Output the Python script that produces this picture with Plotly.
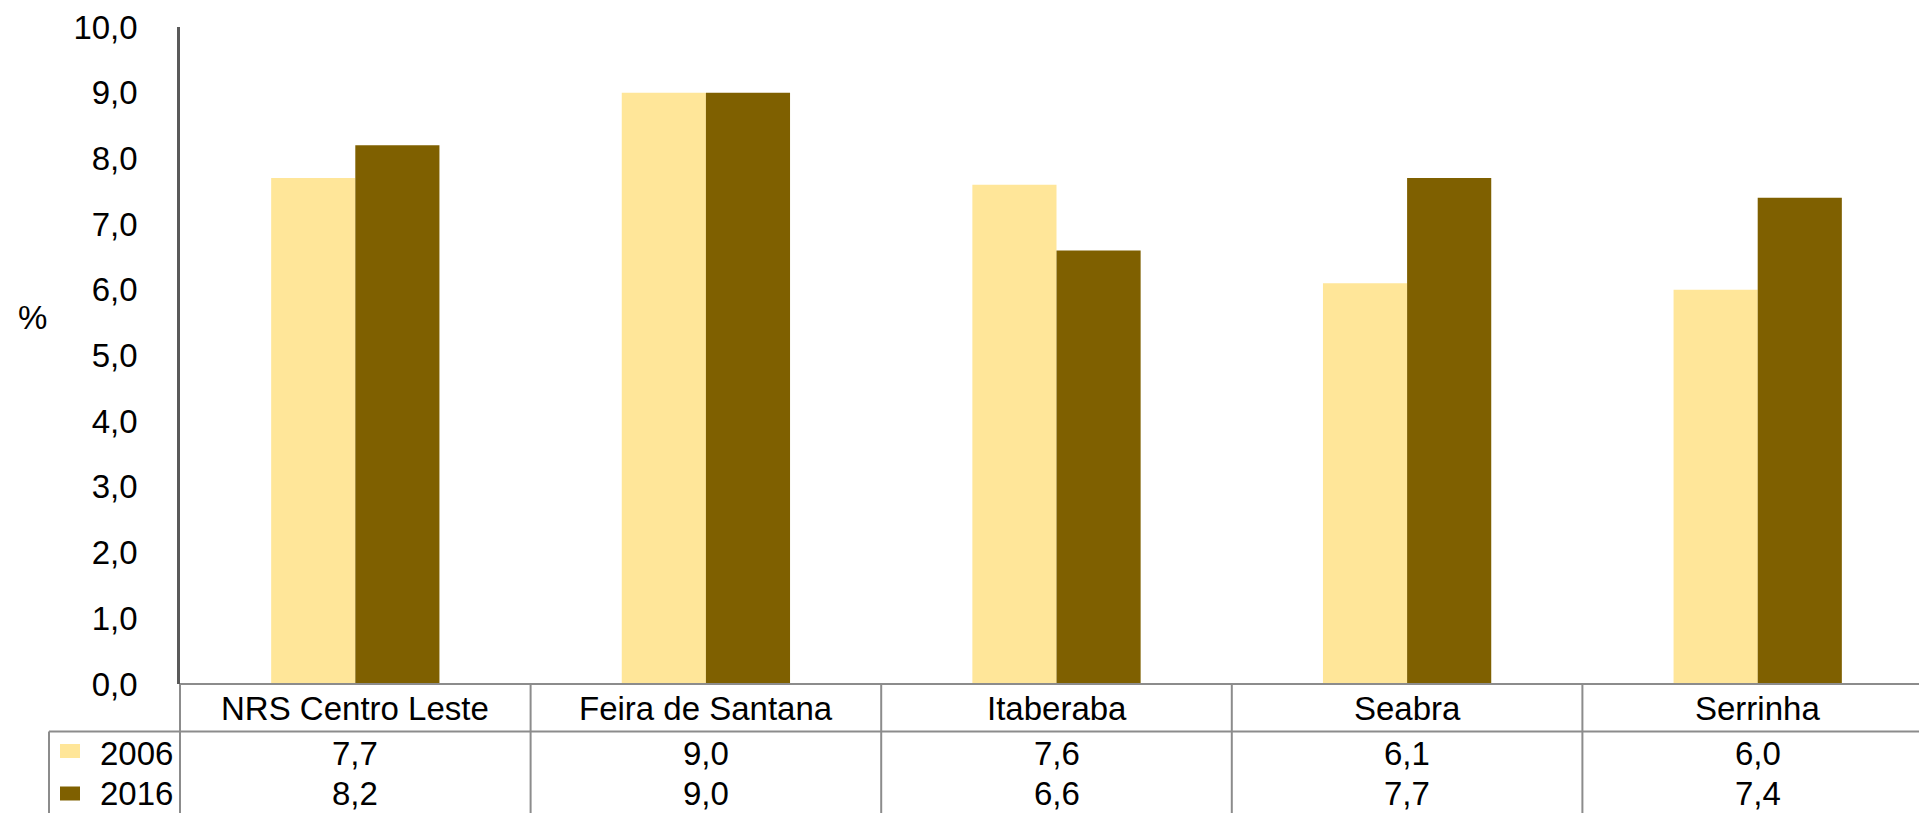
import plotly.graph_objects as go

categories = ["NRS Centro Leste", "Feira de Santana", "Itaberaba", "Seabra", "Serrinha"]
series_names = ["2006", "2016"]
values_2006 = [7.7, 9.0, 7.6, 6.1, 6.0]
values_2016 = [8.2, 9.0, 6.6, 7.7, 7.4]
y_ticks = [0, 1, 2, 3, 4, 5, 6, 7, 8, 9, 10]
y_title = "%"

colors = ["#FFE699", "#7F6000"]
FONT = "Liberation Sans, Arial, sans-serif"
FS = 33
W, H = 1919, 813
ML, MT, MB = 180, 27, 129
plot_w = W - ML
plot_h = H - MT - MB

def py(p):
    return (H - MB - p) / plot_h

def px(p):
    return (p - ML) / plot_w

cat_w = 350.6
xmax = -0.5 + plot_w / cat_w

fig = go.Figure()
idx = list(range(len(categories)))
for name, vals, col in zip(series_names, [values_2006, values_2016], colors):
    fig.add_trace(go.Bar(x=idx, y=vals, name=name, marker=dict(color=col, line=dict(width=0)),
                         showlegend=False))

shapes = []
grey = "#8C8C8C"
shapes.append(dict(type="line", xref="paper", yref="paper", x0=0, x1=1.0, y0=0, y1=0,
                   line=dict(color=grey, width=2)))
shapes.append(dict(type="line", xref="paper", yref="paper", x0=px(49), x1=1.0, y0=py(731.5), y1=py(731.5),
                   line=dict(color=grey, width=2)))
shapes.append(dict(type="line", xref="paper", yref="paper", x0=px(49), x1=px(49), y0=py(731.5), y1=-0.25,
                   line=dict(color=grey, width=2)))
shapes.append(dict(type="line", xref="paper", yref="paper", x0=0, x1=0, y0=0, y1=-0.25,
                   line=dict(color=grey, width=2)))
for i in range(len(categories)):
    shapes.append(dict(type="line", xref="x", yref="paper", x0=i + 0.5, x1=i + 0.5, y0=0, y1=-0.25,
                       line=dict(color=grey, width=2)))
for col, cy in zip(colors, [751, 793.5]):
    shapes.append(dict(type="rect", xref="paper", yref="paper", x0=px(60), x1=px(80),
                       y0=py(cy + 7), y1=py(cy - 7), fillcolor=col, line=dict(width=0)))

annotations = []
txt_font = dict(family=FONT, size=FS, color="#000000")
for i, c in enumerate(categories):
    annotations.append(dict(x=i, y=py(708), xref="x", yref="paper", text=c, showarrow=False,
                            font=txt_font, xanchor="center", yanchor="middle"))
# rows of the data table: first row centred, last row anchored to the bottom edge
row_pos = [(py(753), "middle"), (py(813), "bottom")]
for vals, (yy, ya) in zip([values_2006, values_2016], row_pos):
    for i, v in enumerate(vals):
        annotations.append(dict(x=i, y=yy, xref="x", yref="paper", text=f"{v:.1f}".replace(".", ","),
                                showarrow=False, font=txt_font, borderpad=0,
                                xanchor="center", yanchor=ya))
for name, (yy, ya) in zip(series_names, row_pos):
    annotations.append(dict(x=px(174), y=yy, xref="paper", yref="paper", text=name, showarrow=False,
                            font=txt_font, borderpad=0, xanchor="right", yanchor=ya))
annotations.append(dict(x=px(32), y=py(317), xref="paper", yref="paper", text=y_title, showarrow=False,
                        font=txt_font, xanchor="center", yanchor="middle"))

fig.update_layout(
    width=W, height=H,
    margin=dict(l=ML, r=0, t=MT, b=MB, pad=0),
    paper_bgcolor="white", plot_bgcolor="white",
    barmode="group", bargap=0.52, bargroupgap=0,
    separators=",.",
    font=dict(family=FONT, size=FS, color="#000000"),
    xaxis=dict(range=[-0.5, xmax], showticklabels=False, showgrid=False, zeroline=False,
               showline=False, ticks="", fixedrange=True),
    yaxis=dict(range=[0, 10], tickvals=y_ticks, tickformat=".1f", showgrid=False, zeroline=False,
               showline=True, linecolor="#5A5A5A", linewidth=2.5, ticks="",
               ticklabelstandoff=33, tickfont=dict(family=FONT, size=FS, color="#000000")),
    shapes=shapes, annotations=annotations,
)

fig.write_html("out.html", config={"displayModeBar": False},
               post_script="document.body.style.margin='0';document.body.style.overflow='hidden';")
